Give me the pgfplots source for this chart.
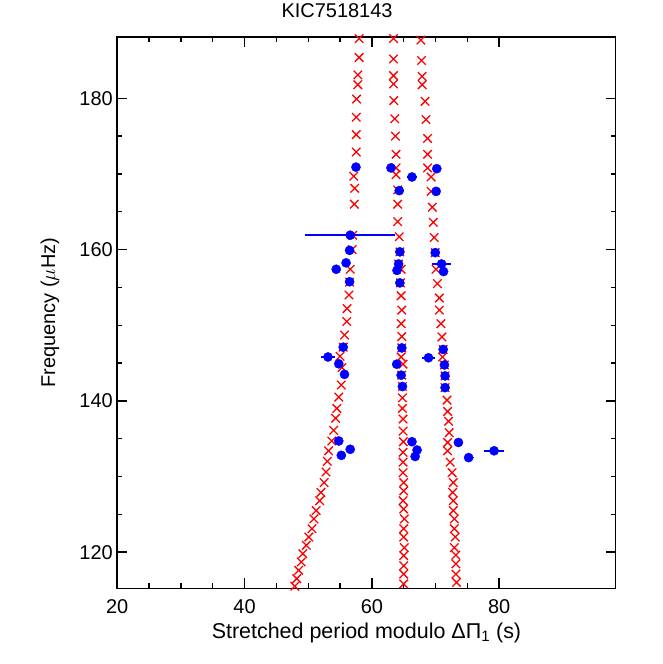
\documentclass[border=0pt]{standalone}
\usepackage{pgfplots}
\pgfplotsset{compat=1.18}
\usepackage{fontspec}
\setmainfont{Liberation Sans}
\begin{document}
\begin{tikzpicture}
% fixes the page to the reference's 664x664 frame
\path (-117.5pt,-75.7pt) rectangle (546.5pt,588.3pt);
\begin{axis}[
  scale only axis,
  width=499.5pt, height=552.6pt,
  xmin=20, xmax=98.3, ymin=115.2, ymax=188.1,
  xtick={20,40,60,80}, ytick={120,140,160,180},
  minor x tick num=3, minor y tick num=3,
  tick align=inside,
  major tick length=10pt, minor tick length=5pt,
  axis line style={line width=1.6pt},
  every tick/.style={black, line width=1.4pt},
  font=\fontsize{20}{24}\selectfont,
  tick label style={font=\fontsize{20}{24}\selectfont, /pgf/number format/assume math mode=true},
  xticklabel style={yshift=-8pt},
  yticklabel style={xshift=-1pt},
  title={KIC7518143},
  title style={at={(axis description cs:0.441,1.0375)}, anchor=center, font=\fontsize{20}{24}\selectfont},
  xlabel={Stretched period modulo ΔΠ\textsubscript{1} (s)},
  xlabel style={at={(axis description cs:0.5,-0.081)}, anchor=center, font=\fontsize{21.5}{24}\selectfont},
  ylabel={Frequency ($\mu$Hz)},
  ylabel style={at={(axis description cs:-0.135,0.5)}, anchor=center},
]
% model modes, left ridge
\addplot[only marks, mark=x, red, mark size=6pt, mark options={line width=1.3pt}] coordinates {
(58.0,187.9) (58.0,185.4) (57.8,183.1) (57.8,181.8) (57.6,179.9) (57.55,177.5) (57.55,175.2) (57.55,172.9)
(57.15,169.7) (57.3,168.1) (57.25,166.0) (57.0,161.9) (56.9,160.0) (56.6,157.4) (56.5,155.7) (56.4,154.0)
(56.1,152.2) (56.05,150.5) (55.7,148.7) (55.5,147.1) (55.0,145.9) (55.3,144.4) (55.2,142.1) (54.8,140.5)
(54.5,139.0) (54.3,137.7) (54.0,136.1) (53.7,134.7) (53.2,133.4) (53.0,132.0) (52.8,130.6) (52.5,129.2)
(52.0,127.9) (51.8,126.8) (51.25,125.5) (50.9,124.4) (50.6,123.1) (50.1,122.0) (49.7,120.9) (49.15,119.8)
(48.9,118.7) (48.5,117.6) (48.2,116.5) (47.9,115.5)
};
% model modes, middle ridge
\addplot[only marks, mark=x, red, mark size=6pt, mark options={line width=1.3pt}] coordinates {
(63.4,187.9) (63.4,185.2) (63.4,183.0) (63.4,181.9) (63.45,179.7) (63.6,177.3) (63.7,175.0) (63.8,172.6)
(63.8,170.8) (63.8,169.9) (64.05,167.9) (64.05,166.0) (64.05,163.7) (64.3,161.7) (64.4,159.7) (64.2,158.1)
(64.6,157.4) (64.5,155.6) (64.6,153.9) (64.7,152.0) (64.6,150.2) (64.7,148.5) (64.7,147.0) (64.6,145.8)
(64.9,144.85) (64.7,143.4) (64.8,141.9) (64.8,140.4) (64.8,139.0) (64.9,137.6) (64.9,136.0) (64.95,134.6)
(64.9,133.2) (64.9,131.9) (64.9,130.5) (65.0,129.2) (65.0,128.1) (64.9,126.8) (65.0,125.7) (65.1,124.4)
(65.0,123.1) (65.0,122.0) (65.1,120.6) (65.0,119.55) (65.0,118.2) (65.0,117.1) (65.0,115.8)
};
% model modes, right ridge
\addplot[only marks, mark=x, red, mark size=6pt, mark options={line width=1.3pt}] coordinates {
(67.7,187.7) (67.8,185.0) (67.9,182.9) (67.9,181.8) (68.35,179.6) (68.5,177.2) (68.75,174.7) (68.75,172.6)
(68.75,170.8) (69.3,169.6) (69.3,167.7) (69.5,165.6) (69.65,163.6) (69.8,161.6) (69.96,159.6) (70.07,157.4)
(70.3,155.5) (70.6,153.6) (70.6,152.0) (70.85,150.2) (71.0,148.45) (71.2,146.8) (71.1,145.8) (71.4,144.75)
(71.5,143.3) (71.5,141.75) (71.8,140.1) (71.9,138.6) (72.05,137.3) (72.15,135.8) (71.9,134.5) (71.9,133.4)
(72.3,131.9) (72.6,130.5) (72.8,129.2) (72.7,127.9) (72.8,126.8) (72.8,125.5) (72.95,124.4) (72.95,123.1)
(73.1,122.0) (72.95,120.6) (73.2,119.6) (73.2,118.45) (73.2,117.1) (73.3,116.0)
};
% observed modes
\addplot[only marks, mark=*, blue, mark size=4.6pt,
  error bars/.cd, x dir=both, x explicit, error mark=none,
  error bar style={line width=1.5pt, blue}] coordinates {
(57.5,170.9) +- (0,0)
(56.6,161.9) +- (7.05,0)
(56.5,159.9) +- (0,0)
(55.95,158.25) +- (0,0)
(54.4,157.4) +- (0,0)
(56.5,155.75) +- (0,0)
(55.5,147.1) +- (0,0)
(53.1,145.8) +- (1.05,0)
(54.8,144.9) +- (0,0)
(55.7,143.5) +- (0,0)
(54.8,134.7) +- (0,0)
(56.6,133.6) +- (0,0)
(55.2,132.8) +- (0,0)
(63.0,170.8) +- (0,0)
(64.3,167.8) +- (0,0)
(66.3,169.6) +- (0.8,0)
(64.4,159.7) +- (0,0)
(64.2,158.1) +- (0,0)
(63.95,157.25) +- (0,0)
(64.4,155.6) +- (0,0)
(64.7,147.0) +- (0,0)
(63.9,144.85) +- (0,0)
(64.6,143.4) +- (0,0)
(64.8,141.9) +- (0,0)
(66.3,134.6) +- (0,0)
(67.1,133.5) +- (0,0)
(66.8,132.65) +- (0,0)
(70.2,170.7) +- (0,0)
(70.1,167.7) +- (0,0)
(69.96,159.6) +- (0,0)
(70.95,158.1) +- (1.5,0)
(71.26,157.1) +- (0,0)
(68.9,145.7) +- (1.05,0)
(71.2,146.8) +- (0,0)
(71.4,144.75) +- (0,0)
(71.5,143.3) +- (0,0)
(71.5,141.75) +- (0,0)
(73.6,134.5) +- (0,0)
(75.2,132.5) +- (0.8,0)
(79.2,133.4) +- (1.6,0)
};
\end{axis}
\end{tikzpicture}
\end{document}
